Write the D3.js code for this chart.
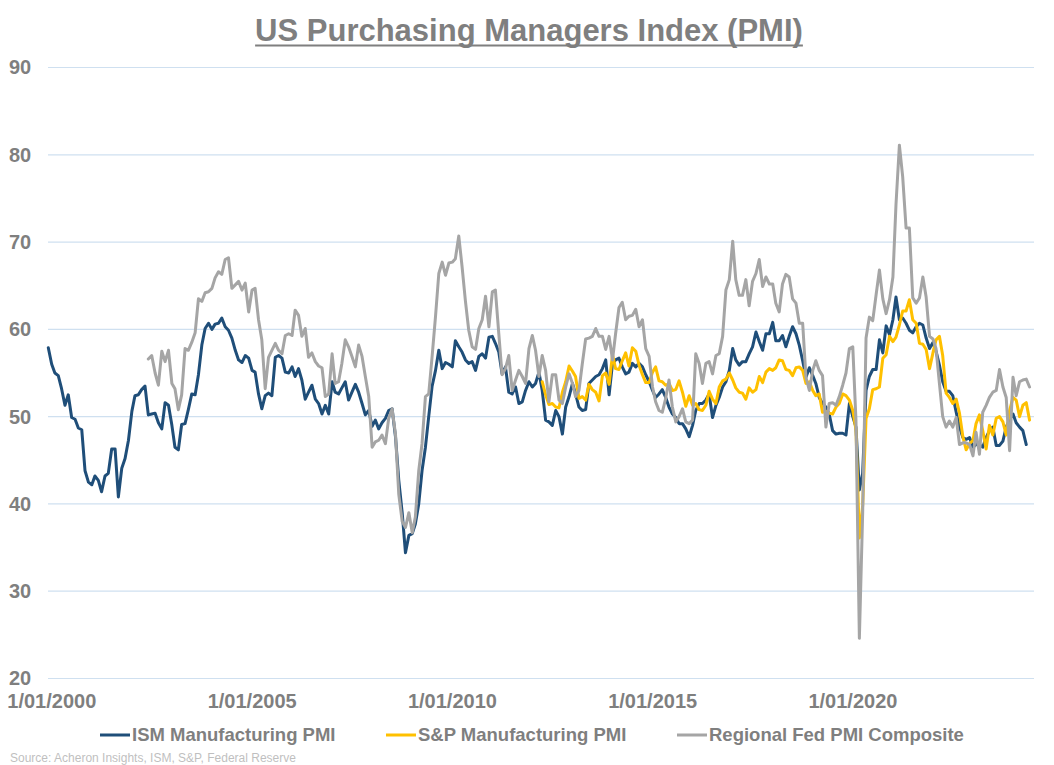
<!DOCTYPE html>
<html>
<head>
<meta charset="utf-8">
<script src="https://cdn.jsdelivr.net/npm/d3@7"></script>
<style>
  html, body { margin: 0; padding: 0; background: #ffffff; }
  svg { display: block; font-family: "Liberation Sans", Arial, Helvetica, sans-serif; }
</style>
</head>
<body>
<svg id="chart" width="1054" height="765"></svg>
<script>
// ---------------- DATA (monthly) ----------------
const ismStart = "2000-01";
const ismValues = [
  57.9, 56.0, 55.0, 54.7, 53.2, 51.3, 52.5, 49.9, 49.7, 48.7, 48.5, 43.8,
  42.5, 42.2, 43.2, 42.7, 41.4, 43.2, 43.5, 46.3, 46.3, 40.8, 44.1, 45.2,
  47.3, 50.6, 52.4, 52.5, 53.1, 53.5, 50.2, 50.3, 50.4, 49.3, 48.6, 51.6,
  51.3, 49.0, 46.5, 46.2, 49.1, 49.2, 50.8, 52.6, 52.5, 54.8, 58.2, 60.1,
  60.7, 60.0, 60.6, 60.7, 61.3, 60.3, 59.9, 59.0, 57.6, 56.5, 56.2, 57.0,
  56.7, 55.3, 55.1, 52.6, 50.9, 52.4, 52.7, 52.4, 56.8, 57.0, 56.7, 55.1,
  55.0, 55.7, 54.6, 55.5, 54.2, 52.0, 52.8, 53.6, 52.0, 51.5, 50.3, 51.3,
  50.3, 54.0, 52.8, 52.6, 53.3, 54.0, 51.9, 52.8, 53.7, 52.8, 51.5, 50.2,
  50.7, 48.9, 49.6, 48.6, 49.3, 49.8, 50.7, 50.9, 47.7, 42.7, 39.0, 34.4,
  36.4, 36.6, 37.7, 40.0, 43.8, 46.5, 50.0, 53.5, 55.3, 57.6, 55.5, 56.2,
  56.0, 55.7, 58.7, 58.0, 57.4, 56.5, 56.1, 56.3, 55.3, 56.9, 57.2, 56.7,
  59.1, 59.2, 58.4, 57.4, 54.9, 55.7, 52.8, 52.6, 53.4, 51.5, 51.7, 53.0,
  54.0, 53.4, 53.8, 55.1, 53.0, 49.6, 49.4, 49.0, 50.7, 50.0, 48.0, 51.1,
  52.3, 53.8, 52.6, 51.1, 50.7, 50.8, 53.8, 54.2, 54.6, 54.8, 55.5, 56.5,
  52.5, 56.1, 56.5, 56.7, 55.7, 54.9, 55.1, 56.1, 55.7, 56.1, 55.7, 54.8,
  54.0, 53.0, 52.2, 52.6, 53.1, 52.2, 51.1, 50.3, 49.9, 49.2, 49.2, 48.6,
  47.7, 49.0, 50.7, 51.5, 51.5, 51.9, 52.6, 49.9, 51.3, 52.2, 53.4, 54.0,
  55.3, 57.8, 56.5, 55.9, 56.3, 56.3, 57.2, 58.0, 59.7, 58.6, 57.6, 59.5,
  59.5, 60.8, 58.7, 58.7, 59.3, 58.0, 59.2, 60.3, 59.5, 58.2, 56.4, 54.5,
  55.6, 54.7, 53.8, 52.2, 51.5, 51.1, 50.3, 48.4, 48.0, 48.1, 48.1, 47.9,
  51.5, 50.0, 48.8, 41.6, 43.5, 53.0, 54.6, 55.4, 55.4, 58.8, 57.3, 60.4,
  59.4, 61.1, 63.7, 61.1, 61.3, 60.7, 59.9, 59.6, 60.3, 60.7, 60.5, 59.0,
  57.8, 58.5, 57.5, 55.9, 54.0, 52.9, 52.9, 52.4, 50.5, 48.8, 47.6, 47.4,
  47.6, 46.5, 46.8, 46.8, 46.5, 47.6, 48.4, 48.8, 46.7, 46.7, 47.2, 48.8,
  49.7, 50.3, 49.3, 48.8, 48.4, 46.8
];

const spStart = "2012-05";
const spValues = [
  54.0, 52.5, 51.4, 51.5, 51.1, 51.0, 52.8, 54.0,
  55.8, 55.2, 54.6, 52.1, 52.3, 51.9, 53.7, 53.1, 52.8, 51.8, 54.7, 55.0,
  53.7, 57.1, 55.5, 55.4, 56.4, 57.3, 55.8, 57.9, 57.5, 55.9, 54.8, 53.9,
  53.9, 55.1, 55.7, 54.1, 54.0, 53.6, 53.8, 53.0, 53.1, 54.1, 52.8, 51.2,
  52.4, 51.3, 51.5, 50.8, 50.7, 51.3, 52.9, 52.0, 51.5, 53.4, 54.1, 54.3,
  55.0, 54.2, 53.3, 52.8, 52.7, 52.0, 53.3, 52.8, 53.1, 54.6, 53.9, 55.1,
  55.5, 55.3, 55.6, 56.5, 56.4, 55.4, 55.3, 54.7, 55.6, 55.7, 55.3, 53.8,
  54.0, 53.0, 52.4, 52.6, 50.5, 50.6, 50.4, 50.3, 51.1, 51.5, 52.6, 52.4,
  51.9, 50.7, 48.5, 36.1, 39.8, 49.8, 50.9, 53.1, 53.2, 53.4, 56.7, 57.1,
  59.2, 58.6, 59.1, 60.5, 62.1, 62.1, 63.4, 61.1, 60.7, 58.4, 58.3, 57.7,
  55.5, 57.3, 58.8, 59.2, 57.0, 52.7, 52.2, 51.5, 52.0, 50.4, 47.7, 46.2,
  46.9, 47.3, 49.2, 50.2, 48.4, 46.3, 49.0, 47.9, 49.8, 50.0, 49.4, 47.9,
  50.7, 52.2, 51.9, 50.0, 51.3, 51.6, 49.6
];

const regStart = "2002-07";
const regValues = [
  56.6, 57.0, 55.0, 53.6, 57.5, 56.3,
  57.6, 53.8, 53.2, 50.8, 52.5, 57.8, 57.6, 58.5, 59.6, 63.5, 63.2, 64.2,
  64.3, 64.7, 65.9, 66.6, 66.3, 68.0, 68.2, 64.7, 65.1, 65.5, 64.5, 65.3,
  62.0, 64.5, 64.7, 61.1, 58.8, 53.2, 56.8, 57.6, 58.4, 57.6, 57.2, 59.3,
  59.5, 59.3, 62.2, 61.6, 59.2, 60.1, 56.8, 57.3, 56.3, 55.8, 55.6, 52.3,
  52.6, 57.2, 53.8, 54.0, 56.1, 58.8, 58.0, 56.9, 55.7, 58.2, 56.9, 54.6,
  52.3, 46.5, 47.1, 47.3, 47.9, 46.9, 49.8, 50.9, 48.0, 41.1, 38.0, 37.3,
  39.0, 36.7, 38.5, 43.8, 46.9, 52.3, 52.6, 56.9, 61.5, 66.4, 67.7, 66.2,
  67.6, 67.7, 68.1, 70.7, 67.2, 63.2, 59.9, 58.0, 57.7, 60.1, 61.1, 63.8,
  60.3, 64.3, 64.5, 59.5, 54.8, 55.5, 57.0, 53.0, 54.2, 55.3, 54.6, 53.8,
  57.8, 59.3, 57.6, 54.6, 57.0, 55.3, 51.7, 54.8, 54.8, 51.9, 51.5, 53.4,
  54.9, 53.8, 52.3, 53.0, 56.0, 58.9, 59.0, 59.2, 60.1, 59.2, 59.2, 57.7,
  59.2, 56.5, 59.5, 62.5, 63.1, 61.1, 61.5, 61.6, 62.3, 60.3, 61.1, 57.8,
  56.9, 53.4, 51.7, 50.7, 50.5, 52.1, 54.2, 51.1, 49.4, 50.0, 50.9, 49.4,
  49.2, 49.6, 57.2, 56.1, 53.8, 56.1, 56.3, 54.9, 57.0, 57.2, 59.2, 64.5,
  65.7, 70.1, 65.7, 63.9, 63.9, 65.7, 62.7, 65.5, 66.4, 68.0, 64.9, 66.0,
  65.2, 65.2, 63.0, 62.0, 65.2, 66.3, 66.0, 63.5, 63.0, 60.7, 60.7, 54.5,
  53.0, 55.3, 56.4, 55.3, 54.7, 48.8, 51.5, 51.6, 51.3, 52.3, 53.6, 55.0,
  57.8, 58.0, 49.6, 24.6, 38.9, 59.0, 61.4, 61.0, 64.0, 66.8, 63.5, 61.8,
  63.4, 66.0, 74.3, 81.1, 77.5, 71.6, 71.6, 63.6, 63.0, 63.6, 66.0, 63.7,
  59.2, 58.9, 57.8, 53.8, 50.0, 48.8, 49.5, 48.8, 49.9, 46.8, 47.0, 47.0,
  46.8, 45.5, 48.2, 45.7, 50.5, 51.3, 52.2, 52.8, 53.0, 55.4, 53.4, 52.2,
  46.1, 54.5, 52.4, 54.0, 54.2, 54.3, 53.4
];

const seriesNames = ["ISM Manufacturing PMI", "S&P Manufacturing PMI", "Regional Fed PMI Composite"];
const seriesColors = ["#1f4e79", "#ffc000", "#a5a5a5"];
const yTicks = [20, 30, 40, 50, 60, 70, 80, 90];
const xTickLabels = ["2000-01-01", "2005-01-01", "2010-01-01", "2015-01-01", "2020-01-01"];
const titleText = "US Purchasing Managers Index (PMI)";
const sourceText = "Source: Acheron Insights, ISM, S&P, Federal Reserve";

// ---------------- BUILD ----------------
const parseMonth = d3.timeParse("%Y-%m");
function toPoints(start, values) {
  const s = parseMonth(start);
  return values.map((v, i) => ({ date: d3.timeMonth.offset(s, i), value: v }));
}
const series = [
  toPoints(ismStart, ismValues),
  toPoints(spStart, spValues),
  toPoints(regStart, regValues)
];

const svg = d3.select("#chart");
const gray = "#7f7f7f";

const x = d3.scaleTime()
  .domain([new Date(2000, 0, 1), new Date(2024, 0, 1)])
  .range([48.3, 1009.6]);
const y = d3.scaleLinear().domain([20, 90]).range([678.5, 67.5]);

// gridlines
svg.append("g").selectAll("line").data(yTicks).join("line")
  .attr("x1", 48).attr("x2", 1034)
  .attr("y1", d => y(d)).attr("y2", d => y(d))
  .attr("stroke", "#cfe0f0").attr("stroke-width", 1.2);

// y axis labels
const yAxis = svg.append("g").attr("transform", "translate(9,0)")
  .call(d3.axisLeft(y).tickValues(yTicks).tickSize(0).tickPadding(0));
yAxis.select(".domain").remove();
yAxis.selectAll("text")
  .attr("text-anchor", "start").attr("x", 0)
  .attr("fill", gray).style("font-size", "20px").style("font-weight", "bold")
  .style("font-family", "'Liberation Sans', Arial, sans-serif");

// x axis labels
const xAxis = svg.append("g").attr("transform", "translate(0,690)")
  .call(d3.axisBottom(x).tickValues(xTickLabels.map(d => new Date(d + "T00:00:00")))
    .tickFormat(d3.timeFormat("%-m/%d/%Y")).tickSize(0).tickPadding(0));
xAxis.select(".domain").remove();
xAxis.selectAll("text")
  .attr("dx", 3).attr("y", 0).attr("dy", "0.88em")
  .attr("fill", gray).style("font-size", "20px").style("font-weight", "bold")
  .style("font-family", "'Liberation Sans', Arial, sans-serif");

// lines
const line = d3.line().x(d => x(d.date)).y(d => y(d.value)).curve(d3.curveLinear);
svg.append("g").selectAll("path").data(series).join("path")
  .attr("d", line)
  .attr("fill", "none")
  .attr("stroke", (d, i) => seriesColors[i])
  .attr("stroke-width", 3)
  .attr("stroke-linejoin", "round")
  .attr("stroke-linecap", "round");

// title
const title = svg.append("text")
  .attr("x", 529).attr("y", 40.5)
  .attr("text-anchor", "middle")
  .attr("fill", gray).style("font-size", "31px").style("font-weight", "bold")
  .text(titleText);
const tw = title.node().getComputedTextLength();
svg.append("line")
  .attr("x1", 529 - tw / 2).attr("x2", 529 + tw / 2)
  .attr("y1", 45.5).attr("y2", 45.5)
  .attr("stroke", gray).attr("stroke-width", 2);

// legend
const legendX = [100, 386, 677];
const lg = svg.append("g").selectAll("g").data(seriesNames).join("g")
  .attr("transform", (d, i) => `translate(${legendX[i]},735)`);
lg.append("line").attr("x1", 0).attr("x2", 30).attr("y1", 0).attr("y2", 0)
  .attr("stroke", (d, i) => seriesColors[i]).attr("stroke-width", 3);
lg.append("text").attr("x", 32).attr("y", 0).attr("dy", "0.35em")
  .attr("fill", gray).style("font-size", "18.5px").style("font-weight", "bold")
  .text(d => d);

// source
svg.append("text").attr("x", 10).attr("y", 761.5)
  .attr("fill", "#bfbfbf").style("font-size", "12px")
  .text(sourceText);
</script>
</body>
</html>
